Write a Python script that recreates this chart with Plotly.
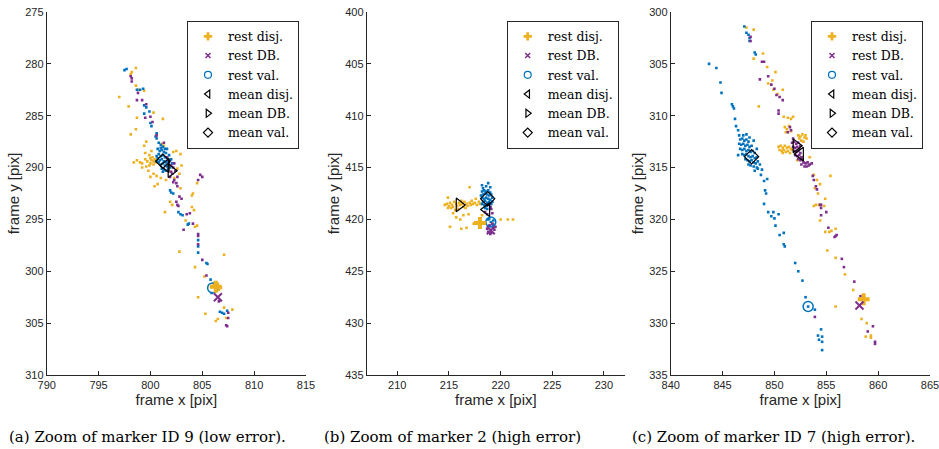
import plotly.graph_objects as go

# ---------------- data ----------------
# Panel (a): marker ID 9
A_DISJ = [(798.1,281.0),(798.2,280.8),(798.6,280.4),(797.0,283.2),(798.6,282.1),(798.8,282.5),(799.4,282.6),
          (797.9,284.1),(800.3,284.7),(798.7,285.2),(801.2,285.3),(798.6,286.3),(798.1,286.8),(799.6,287.5),
          (799.4,287.9),(801.1,287.7),(801.3,287.9),
          (798.4,289.5),(798.7,289.3),(799.0,289.5),(799.2,289.6),(799.5,289.2),(799.7,289.4),(800.0,289.1),
          (800.1,289.3),(800.2,289.0),(800.3,289.4),(800.4,289.2),(800.5,289.5),(800.0,289.6),(799.9,289.8),
          (800.6,289.3),(800.3,289.7),(799.6,289.9),(799.2,290.0),(799.8,290.3),(800.3,290.6),(800.0,290.9),
          (800.6,290.8),(799.5,288.6),(800.1,288.4),(799.9,288.8),
          (802.2,288.5),(802.5,288.4),(802.9,288.7),(803.0,289.8),(802.6,290.1),(802.8,290.6),(802.3,291.0),
          (801.5,291.2),(801.0,291.0),
          (804.5,291.5),(800.7,291.6),(800.4,291.8),(802.9,292.0),(804.0,292.7),(804.1,292.5),(801.9,293.3),
          (802.1,293.6),(804.0,293.8),(804.2,294.1),(801.4,294.3),(803.4,295.1),(804.3,295.7),(804.5,295.6),
          (802.8,298.1),(807.1,298.4),(804.3,299.6),(805.2,300.5),
          (806.1,301.3),(806.5,301.2),(806.8,301.6),(806.3,301.9),(806.6,301.8),(806.2,301.1),
          (804.6,302.5),(807.1,303.5),(807.9,303.7),(805.3,304.1),(806.3,304.8),(806.5,304.6),(807.3,304.5)]
A_DB = [(798.2,281.4),(798.2,281.7),(798.1,281.2),(798.8,282.8),(798.7,283.5),(799.2,283.5),(799.6,283.9),
        (800.0,285.1),(800.2,285.6),(799.5,285.2),(800.6,286.9),(801.3,287.6),
        (801.6,289.0),(801.8,289.4),(802.0,289.8),(802.2,290.0),(802.4,290.3),(802.1,290.6),(801.9,290.9),
        (802.3,291.2),(802.5,291.5),(802.6,291.8),(802.2,291.4),(802.6,290.9),(802.0,290.4),(802.3,289.6),
        (804.8,290.7),(805.0,290.9),(804.6,291.2),(802.8,292.8),(803.0,293.0),(802.5,293.3),(802.6,293.6),
        (802.7,293.7),(803.5,294.5),(803.8,294.4),(804.1,295.4),(803.2,296.0),(804.6,296.4),(804.6,296.6),
        (804.6,297.4),(805.0,298.9),(805.4,300.4),(806.6,302.9),(806.7,302.8),(807.5,304.0),(807.5,304.5),
        (807.3,305.2),(807.4,305.3)]
A_VAL = [(797.5,280.6),(797.7,280.5),(798.7,282.5),(799.0,282.5),(799.3,282.4),(799.4,284.0),(799.6,284.2),
         (799.4,284.8),(799.9,284.6),(800.0,285.7),(800.1,286.0),(800.6,286.7),(800.5,287.0),(800.6,287.2),
         (800.8,287.6),(801.0,287.8),(801.2,288.0),(800.7,288.2),(800.9,288.4),(801.1,288.3),(801.3,288.5),
         (801.5,288.6),(800.8,288.7),(801.0,288.9),(801.2,288.8),(801.4,289.0),(801.6,289.1),(800.7,289.1),
         (800.9,289.3),(801.1,289.2),(801.3,289.4),(801.5,289.5),(801.7,289.4),(800.8,289.5),(801.0,289.7),
         (801.2,289.6),(801.4,289.8),(801.6,289.9),(801.8,289.7),(801.9,290.0),(801.1,290.1),(801.3,290.2),
         (801.5,290.3),(801.7,290.2),(800.6,288.9),(801.6,288.2),(801.8,288.8),(802.0,289.2),(801.0,288.1),
         (801.4,288.2),(800.6,289.4),(801.9,289.3),(802.1,289.6),(801.2,290.4),
         (801.9,292.2),(802.2,292.5),(802.0,292.4),
         (802.7,294.3),(802.9,294.5),(803.1,294.6),(803.6,295.5),(803.7,295.4),(804.6,297.0),(804.6,297.6),
         (804.6,298.2),(805.4,299.2),(805.5,299.3),(805.8,300.8),(805.9,302.1),(806.7,303.9),(806.9,304.0),
         (807.1,304.1),(807.4,303.8)]
A_REST = {"disj": (806.3, 301.5), "db": (806.5, 302.5), "val": (806.0, 301.6)}
A_MEAN = {"disj": (801.5, 289.8), "db": (802.0, 290.3), "val": (801.2, 289.4)}

# Panel (b): marker 2
B_DISJ = [(214.6,418.6),(214.8,418.5),(215.0,418.7),(215.1,418.4),(215.3,418.6),(215.4,418.8),(215.5,418.3),
          (215.7,418.5),(215.8,418.7),(216.0,418.4),(216.1,418.6),(216.3,418.5),(216.4,418.8),(216.5,418.3),
          (216.7,418.5),(216.8,418.7),(217.0,418.4),(217.1,418.6),(217.3,418.5),(217.5,418.4),(217.7,418.6),
          (217.9,418.3),(215.2,418.9),(215.9,419.0),(216.6,418.9),(217.2,418.2),(216.2,418.2),(214.9,418.9),
          (215.6,419.1),(218.0,418.5),
          (217.0,416.9),(215.4,419.4),(215.7,419.8),(216.4,419.6),(216.9,419.5),(216.1,420.0),(215.1,420.7),
          (216.2,420.9),(216.7,420.8),(220.0,420.0),(220.7,420.0),(221.2,420.0),(214.9,417.9),(217.6,418.0),
          (218.2,419.6),(217.4,420.4),(218.5,420.3)]
B_DB = [(219.0,418.8),(219.1,419.0),(218.5,419.3),(218.7,419.5),(219.2,419.4),(218.9,420.6),(219.3,420.8),
        (219.1,421.3),(218.8,421.2),(219.4,421.0),(219.0,421.4),(219.2,420.4),(219.5,420.7),(218.7,420.9)]
B_VAL = [(218.2,417.3),(218.4,417.2),(218.6,417.3),(218.8,417.2),(219.0,417.4),(218.3,417.6),(218.5,417.5),
         (218.7,417.6),(218.9,417.7),(219.1,417.6),(218.2,417.9),(218.4,418.0),(218.6,417.9),(218.8,418.0),
         (219.0,418.1),(219.2,417.9),(218.3,418.3),(218.5,418.2),(218.7,418.4),(218.9,418.3),(219.1,418.5),
         (218.4,418.6),(218.6,418.7),(218.8,418.6),(219.0,418.8),(218.2,418.5),(218.5,418.9),(218.7,419.0),
         (219.2,418.3),(218.1,417.7),
         (218.2,416.7),(218.8,416.5),(219.0,416.9),(218.3,417.0),(218.6,416.8),
         (218.8,420.0),(219.3,420.1),(219.0,420.6),(219.3,420.5),(218.9,419.9),(219.05,420.25)]
B_REST = {"disj": (218.0, 420.35), "db": (219.05, 421.05), "val": (219.05, 420.25)}
B_MEAN = {"disj": (218.65, 419.05), "db": (216.0, 418.6), "val": (218.75, 418.0)}

# Panel (c): marker ID 7
C_DISJ = [(847.3,301.5),(848.0,301.7),(848.9,304.0),(848.0,304.5),(849.3,305.3),(850.1,305.8),(849.8,306.6),
          (849.4,306.9),(849.9,307.5),(850.8,307.5),(850.3,307.9),(848.5,309.1),(850.9,310.1),(851.3,310.2),
          (851.8,310.1),(851.6,310.3),
          (851.0,311.1),(851.2,311.3),(851.4,311.0),(851.1,311.6),(851.6,311.5),(852.3,311.9),(852.5,312.0),
          (852.7,311.8),(852.9,312.1),(853.1,312.2),(852.6,312.4),(852.8,312.5),(852.4,312.2),(853.0,311.9),
          (850.4,313.0),(850.6,312.9),(850.8,313.1),(851.0,312.9),(851.2,313.1),(851.4,313.0),(851.6,313.2),
          (850.5,313.3),(850.7,313.4),(850.9,313.3),(851.1,313.5),(851.3,313.4),(851.5,313.6),(850.8,313.6),
          (851.7,313.3),
          (852.7,314.0),(853.4,314.0),(852.2,314.3),
          (853.8,315.7),(854.1,316.2),(854.4,316.6),(853.9,317.0),(854.2,317.5),(855.4,315.8),(854.0,318.6),
          (854.9,318.0),
          (853.8,318.7),(854.3,318.6),(854.8,318.7),(854.4,320.1),(854.9,321.2),(855.3,321.2),(855.5,321.1),
          (855.9,320.9),(855.1,323.0),(855.9,323.7),(856.8,325.3),(857.6,326.8),(855.9,328.4),(858.4,329.6),
          (858.9,330.0),(858.8,331.3),(859.3,331.2),(859.3,331.4)]
C_DB = [(847.7,302.4),(847.7,302.8),(848.8,304.8),(849.0,304.8),(849.4,306.2),(848.6,306.5),(849.7,307.0),
        (850.0,307.4),(850.2,308.0),(850.5,308.2),(850.8,308.5),(850.4,309.5),(850.4,309.8),(851.5,311.1),
        (851.6,311.4),(851.3,311.6),
        (851.7,312.6),(851.9,312.5),(852.1,312.7),(852.3,312.6),(851.8,313.0),(852.0,313.1),(852.2,313.0),
        (852.4,313.2),(851.9,313.4),(852.1,313.5),(852.3,313.4),(852.5,313.6),(852.0,313.8),(852.2,313.9),
        (852.4,313.8),(852.6,314.0),(852.3,314.2),(852.5,314.3),(852.7,314.2),(852.8,314.5),(852.6,314.7),
        (853.0,314.6),(853.2,314.5),(853.4,314.7),(853.6,314.6),(852.9,314.9),(853.1,314.9),(853.3,314.8),
        (851.8,312.2),(852.5,312.9),
        (853.7,315.8),(853.8,316.2),(854.0,316.8),(854.1,317.1),(854.4,318.6),
        (854.5,318.6),(854.5,318.9),(854.5,319.6),(855.0,319.3),(855.2,320.8),(855.8,321.7),(855.9,321.6),
        (856.0,321.5),(856.5,323.8),(856.7,324.6),(857.7,326.0),(858.3,327.4),(859.5,330.3),(859.0,330.8),
        (859.7,331.8),(859.7,332.0),(853.9,329.4)]
C_VAL = [(847.1,301.4),(847.3,302.0),(847.5,302.2),(847.6,302.5),(847.6,302.8),(848.1,303.9),(848.2,304.1),
         (843.7,305.0),(844.4,305.4),(844.8,306.8),(844.9,307.8),(845.9,308.9),(846.1,309.3),(846.0,309.1),
         (846.2,310.3),(846.3,311.0),(846.5,311.4),(846.6,311.9),
         (846.7,312.3),(846.9,312.2),(847.1,312.4),(847.3,312.3),(847.5,312.5),(846.6,312.7),(846.8,312.8),
         (847.0,312.7),(847.2,312.9),(847.4,312.8),(847.6,313.0),(847.8,312.9),(846.7,313.2),(846.9,313.3),
         (847.1,313.2),(847.3,313.4),(847.5,313.3),(847.7,313.5),(847.9,313.4),(848.1,313.6),(846.9,313.7),
         (847.1,313.8),(847.3,313.7),(847.5,313.9),(847.7,314.0),(847.9,313.9),(848.1,314.1),(848.3,314.0),
         (847.2,314.2),(847.4,314.3),(847.6,314.4),(847.8,314.3),(848.0,314.5),(848.2,314.6),(848.4,314.4),
         (847.5,314.7),(847.7,314.8),(848.0,314.9),(848.3,315.0),(847.0,311.9),(847.3,311.8),(847.6,312.1),
         (848.0,312.4),(848.3,313.2),(846.5,313.8),(848.6,314.7),(848.8,315.2),
         (848.1,315.3),(848.4,315.1),(848.7,315.7),(849.0,316.3),(849.3,316.1),(849.1,317.2),(849.2,317.5),
         (849.0,318.5),(849.4,319.3),(849.9,319.3),(850.4,319.5),(849.7,319.7),(850.0,319.9),(850.1,320.6),
         (850.5,321.5),(850.9,321.3),(850.9,322.4),(851.0,322.6),(852.0,324.2),(852.3,325.0),(852.7,325.9),
         (853.0,327.5),(853.9,328.7),(853.25,328.4),(854.5,330.6),(854.2,331.2),(854.3,331.6),(854.6,331.3),
         (854.6,331.8),(854.6,332.6)]
C_REST = {"disj": (858.6, 327.7), "db": (858.2, 328.3), "val": (853.25, 328.4)}
C_MEAN = {"disj": (852.5, 313.7), "db": (852.1, 312.9), "val": (847.8, 313.95)}

X_RANGES = [[790, 815], [207.04, 232.04], [840, 865]]
Y_RANGES = [[310, 275], [435, 400], [335, 300]]
X_TICKS = [[790, 795, 800, 805, 810, 815], [210, 215, 220, 225, 230], [840, 845, 850, 855, 860, 865]]
Y_TICKS = [[275, 280, 285, 290, 295, 300, 305, 310], [400, 405, 410, 415, 420, 425, 430, 435],
           [300, 305, 310, 315, 320, 325, 330, 335]]
CAPTIONS = ["(a) Zoom of marker ID 9 (low error).", "(b) Zoom of marker 2 (high error)",
            "(c) Zoom of marker ID 7 (high error)."]
LEGEND_NAMES = ["rest disj.", "rest DB.", "rest val.", "mean disj.", "mean DB.", "mean val."]

# ---------------- styling / layout geometry ----------------
YEL, PUR, BLU = "#EDB120", "#7E2F8E", "#0072BD"
AX = "#262626"
W, H = 939, 449
ML, MR, MT, MB = 40, 0, 5, 60
PW, PH = W - ML - MR, H - MT - MB


def fx(px):  # page pixel -> paper x
    return (px - ML) / PW


def fy(py):  # page pixel -> paper y
    return (H - MB - py) / PH


X_DOM_PX = [(46.7, 306.0), (366.7, 625.0), (670.7, 930.0)]
Y_DOM_PX = (12.0, 375.0)
LEG_PX = [187, 506.7, 811]
CAP_PX = [7, 321.7, 630]

panels = [
    (A_DISJ, A_DB, A_VAL, A_REST, A_MEAN),
    (B_DISJ, B_DB, B_VAL, B_REST, B_MEAN),
    (C_DISJ, C_DB, C_VAL, C_REST, C_MEAN),
]

fig = go.Figure()


def xs(pts):
    return [p[0] for p in pts]


def ys(pts):
    return [p[1] for p in pts]


for i, (disj, db, val, rest, mean) in enumerate(panels):
    n = i + 1
    xa = "x" if n == 1 else f"x{n}"
    ya = "y" if n == 1 else f"y{n}"
    lg = "legend" if n == 1 else f"legend{n}"
    common = dict(xaxis=xa, yaxis=ya, legend=lg, mode="markers", hoverinfo="skip")
    for pts, col in ((disj, YEL), (val, BLU), (db, PUR)):
        fig.add_trace(go.Scatter(x=xs(pts), y=ys(pts), showlegend=False,
                                 marker=dict(symbol="square", size=2.6, color=col, line=dict(width=0)),
                                 **common))
    fig.add_trace(go.Scatter(x=[rest["val"][0]], y=[rest["val"][1]], showlegend=False,
                             marker=dict(symbol="circle-open", size=10, color=BLU, line=dict(width=1.5)), **common))
    fig.add_trace(go.Scatter(x=[rest["disj"][0]], y=[rest["disj"][1]], showlegend=False,
                             marker=dict(symbol="cross", size=10, color=YEL, line=dict(width=0)), **common))
    fig.add_trace(go.Scatter(x=[rest["db"][0]], y=[rest["db"][1]], showlegend=False,
                             marker=dict(symbol="x-thin-open", size=8, color=PUR, line=dict(width=2, color=PUR)),
                             **common))
    for key, sym, sz in (("disj", "triangle-left-open", 12), ("db", "triangle-right-open", 12),
                         ("val", "diamond-open", 11)):
        fig.add_trace(go.Scatter(x=[mean[key][0]], y=[mean[key][1]], showlegend=False,
                                 marker=dict(symbol=sym, size=sz, color="black", line=dict(width=1.2)), **common))
    leg_styles = [
        dict(symbol="cross", size=7, color=YEL, line=dict(width=0)),
        dict(symbol="x-thin-open", size=5, color=PUR, line=dict(width=1.5, color=PUR)),
        dict(symbol="circle-open", size=7, color=BLU, line=dict(width=1.2)),
        dict(symbol="triangle-left-open", size=7, color="black", line=dict(width=1.2)),
        dict(symbol="triangle-right-open", size=7, color="black", line=dict(width=1.2)),
        dict(symbol="diamond-open", size=7, color="black", line=dict(width=1.2)),
    ]
    for name, st in zip(LEGEND_NAMES, leg_styles):
        fig.add_trace(go.Scatter(x=[None], y=[None], name=name, showlegend=True, marker=st, **common))

layout = dict(width=W, height=H, margin=dict(l=ML, r=MR, t=MT, b=MB, autoexpand=False),
              paper_bgcolor="white", plot_bgcolor="white", showlegend=True)

tickfont = dict(family="Liberation Sans", size=11, color=AX)
titlefont = dict(family="Liberation Sans", size=15, color=AX)
for i in range(3):
    n = i + 1
    xk = "xaxis" if n == 1 else f"xaxis{n}"
    yk = "yaxis" if n == 1 else f"yaxis{n}"
    xa = "x" if n == 1 else f"x{n}"
    ya = "y" if n == 1 else f"y{n}"
    x0, x1 = X_DOM_PX[i]
    layout[xk] = dict(domain=[fx(x0), fx(x1)], range=X_RANGES[i], tickvals=X_TICKS[i], anchor=ya,
                      ticks="inside", ticklen=4, tickcolor=AX, tickwidth=1, showline=True, linecolor=AX,
                      linewidth=1, showgrid=False, zeroline=False, tickfont=tickfont, automargin=False,
                      ticklabeloverflow="allow",
                      title=dict(text="frame x [pix]", font=titlefont, standoff=4))
    layout[yk] = dict(domain=[fy(Y_DOM_PX[1]), fy(Y_DOM_PX[0])], range=Y_RANGES[i],
                      tickvals=Y_TICKS[i], anchor=xa,
                      ticks="inside", ticklen=4, tickcolor=AX, tickwidth=1, showline=True, linecolor=AX,
                      linewidth=1, showgrid=False, zeroline=False, tickfont=tickfont, automargin=False,
                      ticklabeloverflow="allow",
                      title=dict(text="frame y [pix]", font=titlefont, standoff=1))
    lk = "legend" if n == 1 else f"legend{n}"
    layout[lk] = dict(x=fx(LEG_PX[i]), y=fy(20.7), xanchor="left", yanchor="top",
                      bgcolor="white", bordercolor=AX, borderwidth=1, tracegroupgap=0,
                      font=dict(family="DejaVu Serif", size=12.5, color="black"))

fig.update_layout(**layout)

for i, cap in enumerate(CAPTIONS):
    fig.add_annotation(text=cap, xref="paper", yref="paper", x=fx(CAP_PX[i]), y=fy(437),
                       xanchor="left", yanchor="middle", showarrow=False,
                       font=dict(family="DejaVu Serif", size=15, color="black"))

# remove the browser's default 8px body margin so the figure sits at the page origin
fig.write_html("out.html", config={"displayModeBar": False},
               post_script="document.body.style.margin='0';document.body.style.overflow='hidden';")
